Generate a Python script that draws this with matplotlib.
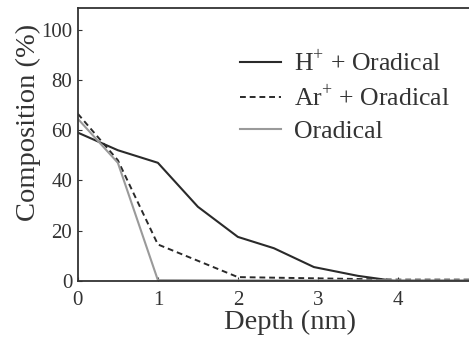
import matplotlib
matplotlib.use("Agg")
import matplotlib.pyplot as plt

plt.rcParams['font.family'] = ['Liberation Serif', 'DejaVu Serif']
plt.rcParams['mathtext.fontset'] = 'custom'
plt.rcParams['mathtext.rm'] = 'Liberation Serif'

# depth profiles (nm, %)
depth_h = [0, 0.5, 1, 1.5, 2, 2.45, 2.95, 3.5, 3.95, 5]
comp_h = [59, 52, 47, 29.5, 17.5, 13, 5.5, 2, 0, 0]

depth_ar = [0, 0.5, 1, 2, 3, 4, 5]
comp_ar = [66.5, 48, 14.5, 1.5, 1, 0.5, 0.5]

depth_o = [0, 0.5, 1, 2, 3, 4, 5]
comp_o = [64.5, 47, 0.3, 0.2, 0.2, 0.2, 0.2]

labels = ["H$^{+}$ + Oradical", "Ar$^{+}$ + Oradical", "Oradical"]
xticks = [0, 1, 2, 3, 4]
yticks = [0, 20, 40, 60, 80, 100]

fig = plt.figure(figsize=(4.69, 3.38), dpi=100)
ax = fig.add_axes([0.166, 0.169, 0.853, 0.808])

ax.plot(depth_h, comp_h, color='#2a2a2a', lw=1.5, label=labels[0])
ax.plot(depth_ar, comp_ar, color='#2a2a2a', lw=1.4, ls=(0, (3, 2)), label=labels[1])
ax.plot(depth_o, comp_o, color='#9a9a9a', lw=1.5, label=labels[2])

ax.set_xlim(0, 5)
ax.set_ylim(0, 108.7)
ax.set_xticks(xticks)
ax.set_yticks(yticks)
ax.tick_params(direction='in', length=3, width=0.8, labelsize=15, colors='#333333')
ax.tick_params(axis='x', pad=7)
ax.tick_params(axis='y', pad=4)
for side in ['left', 'bottom', 'top']:
    ax.spines[side].set_linewidth(1.3)
    ax.spines[side].set_color('#333333')
ax.spines['right'].set_visible(False)

ax.set_xlabel("Depth (nm)", fontsize=20.5, color='#333333', labelpad=0.5, x=0.53)
ax.set_ylabel("Composition (%)", fontsize=20.5, color='#333333')
ax.yaxis.set_label_coords(-0.093, 0.58)

ax.legend(loc='upper left', bbox_to_anchor=(0.405, 0.845), frameon=False, fontsize=18.5,
          handlelength=1.6, handletextpad=0.5, labelspacing=0.33,
          borderpad=0, borderaxespad=0, labelcolor='#333333')

fig.savefig("out.png", dpi=100)
